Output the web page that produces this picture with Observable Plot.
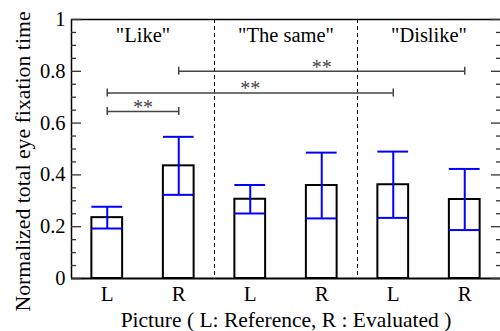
<!DOCTYPE html>
<html>
<head>
<meta charset="utf-8">
<script src="https://cdn.jsdelivr.net/npm/d3@7"></script>
<script src="https://cdn.jsdelivr.net/npm/@observablehq/plot@0.6"></script>
<style>
  body { margin: 0; background: #fff; }
  svg { display: block; }
  svg text { font-family: "Liberation Serif", "Times New Roman", serif; }
</style>
</head>
<body>
<div id="chart"></div>
<script>
// Picture shown in each condition and the preference group it belongs to
const pictures = ["L", "R", "L", "R", "L", "R"];
const groups = ["\"Like\"", "\"Like\"", "\"The same\"", "\"The same\"", "\"Dislike\"", "\"Dislike\""];

// Normalized total eye fixation time: mean and standard deviation
const means = [0.235, 0.435, 0.306, 0.359, 0.362, 0.305];
const sds = [0.042, 0.112, 0.055, 0.127, 0.128, 0.118];

// Significance brackets (condition indices, bracket height, label)
const pairFrom = [0, 0, 1];
const pairTo = [1, 4, 5];
const pairLevel = [0.645, 0.716, 0.80];
const pairMark = ["**", "**", "**"];

// Axis ticks
const majorTicks = [0, 0.2, 0.4, 0.6, 0.8, 1];
const minorTicks = d3.ticks(0, 1, 20).filter(t => !majorTicks.some(m => Math.abs(m - t) < 1e-9));

const xTitle = "Picture ( L: Reference, R : Evaluated )";
const yTitle = "Normalized total eye fixation time";

const rows = pictures.map((p, i) => ({i, picture: p, group: groups[i], mean: means[i], sd: sds[i]}));
const brackets = pairFrom.map((a, k) => ({from: a, to: pairTo[k], level: pairLevel[k], mark: pairMark[k]}));
const groupNames = [...new Set(groups)];
const groupCenters = groupNames.map(g => ({g, c: d3.mean(rows.filter(r => r.group === g), r => r.i)}));
const dividers = groupNames.slice(1).map(g => rows.find(r => r.group === g).i - 0.5);

const halfBar = 0.215;
const font = '"Liberation Serif", "Times New Roman", serif';
const ink = "#333";
const txt = {fontFamily: font, fill: "black"};

const chart = Plot.plot({
  width: 500,
  height: 331,
  marginLeft: 71,
  marginRight: 0,
  marginTop: 19,
  marginBottom: 53,
  style: {fontFamily: font, fontSize: "20px", background: "white", color: "black"},
  x: {domain: [-0.5, 5.5], axis: null},
  y: {domain: [0, 1], axis: null},
  marks: [
    // group dividers
    Plot.ruleX(dividers, {stroke: "black", strokeWidth: 1, strokeDasharray: "4,3"}),
    // bars
    Plot.rectY(rows, {x1: d => d.i - halfBar, x2: d => d.i + halfBar, y1: 0, y2: "mean",
      fill: "white", stroke: "black", strokeWidth: 2}),
    // error bars
    Plot.ruleX(rows, {x: "i", y1: d => d.mean - d.sd, y2: d => d.mean + d.sd, stroke: "#0000ff", strokeWidth: 2}),
    Plot.ruleY(rows, {y: d => d.mean - d.sd, x1: d => d.i - halfBar, x2: d => d.i + halfBar, stroke: "#0000ff", strokeWidth: 2}),
    Plot.ruleY(rows, {y: d => d.mean + d.sd, x1: d => d.i - halfBar, x2: d => d.i + halfBar, stroke: "#0000ff", strokeWidth: 2}),
    // significance brackets
    Plot.ruleY(brackets, {y: "level", x1: "from", x2: "to", stroke: "#444", strokeWidth: 1.5}),
    Plot.ruleX(brackets, {x: "from", y1: "level", y2: "level", insetTop: -4, insetBottom: -4, stroke: "#444", strokeWidth: 1.5}),
    Plot.ruleX(brackets, {x: "to", y1: "level", y2: "level", insetTop: -4, insetBottom: -4, stroke: "#444", strokeWidth: 1.5}),
    Plot.text(brackets, {x: d => (d.from + d.to) / 2, y: "level", text: "mark", dy: -4, fontSize: 20, fontFamily: font, fill: "#444"}),
    // group labels
    Plot.text(groupCenters, {x: "c", frameAnchor: "top", lineAnchor: "top", dy: 8, text: "g", fontSize: 20.5, ...txt}),
    // frame
    Plot.ruleY([0], {stroke: "black", strokeWidth: 1.8}),
    Plot.ruleY([1], {stroke: "black", strokeWidth: 1.5}),
    Plot.ruleX([-0.5], {stroke: "black", strokeWidth: 1.5}),
    // inward ticks, both sides
    Plot.axisY(majorTicks, {anchor: "left", tickSize: -10, fill: "none", stroke: ink, strokeWidth: 1.3}),
    Plot.axisY(minorTicks, {anchor: "left", tickSize: -5, fill: "none", stroke: ink, strokeWidth: 1.3}),
    Plot.axisY(majorTicks, {anchor: "right", tickSize: -10, fill: "none", stroke: ink, strokeWidth: 1.3}),
    Plot.axisY(minorTicks, {anchor: "right", tickSize: -5, fill: "none", stroke: ink, strokeWidth: 1.3}),
    // tick labels
    Plot.axisY(majorTicks, {anchor: "left", tickSize: 0, tickPadding: 6, tickFormat: d => String(d), fontSize: 20.5, ...txt}),
    Plot.axisX(rows.map(r => r.i), {anchor: "bottom", tickSize: 0, tickPadding: 8, tickFormat: i => pictures[i], fontSize: 21, ...txt}),
    // axis titles
    Plot.text([xTitle], {frameAnchor: "bottom", textAnchor: "middle", lineAnchor: "middle", dy: 42, fontSize: 21.5, ...txt}),
    Plot.text([yTitle], {frameAnchor: "left", textAnchor: "middle", lineAnchor: "middle", rotate: -90, dx: -48.5, dy: 12.5, fontSize: 21.8, ...txt})
  ]
});

document.getElementById("chart").append(chart);
</script>
</body>
</html>
